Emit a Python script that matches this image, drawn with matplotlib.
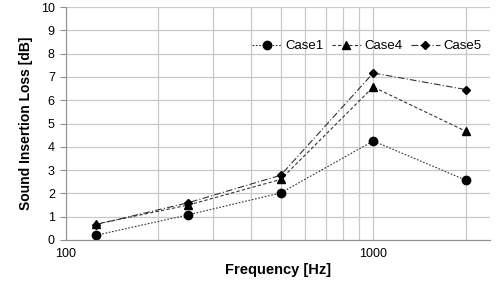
import matplotlib
matplotlib.use("Agg")
import matplotlib.pyplot as plt
from matplotlib.ticker import FixedLocator, NullFormatter

plt.rcParams['font.family'] = ['Liberation Sans', 'DejaVu Sans']

freq = [125, 250, 500, 1000, 2000]
case1 = [0.2, 1.08, 2.02, 4.25, 2.57]
case4 = [0.68, 1.5, 2.6, 6.57, 4.67]
case5 = [0.66, 1.6, 2.78, 7.17, 6.46]
yticks = list(range(0, 11))
xtick_labels = ["100", "1000"]

fig = plt.figure(figsize=(4.96, 2.83), dpi=100)
ax = fig.add_axes([0.133, 0.152, 0.855, 0.823])
ax.set_xscale('log')
ax.set_xlim(100, 2400)
ax.set_ylim(0, 10)

minor = [200, 300, 400, 500, 600, 700, 800, 900, 2000]
ax.xaxis.set_major_locator(FixedLocator([100, 1000]))
ax.set_xticklabels(xtick_labels)
ax.xaxis.set_minor_locator(FixedLocator(minor))
ax.xaxis.set_minor_formatter(NullFormatter())
ax.set_yticks(yticks)
ax.grid(True, which='both', color='#c8c8c8', linewidth=0.9)
ax.set_axisbelow(True)
for s in ['top', 'right']:
    ax.spines[s].set_visible(False)
for s in ['left', 'bottom']:
    ax.spines[s].set_color('#909090')
ax.tick_params(axis='both', which='major', labelsize=9, color='#909090', length=4, pad=4)
ax.tick_params(axis='x', which='minor', length=0)
ax.tick_params(axis='x', which='major', length=0, pad=6)

ax.plot(freq, case1, color='#333333', linestyle=(0, (1.5, 1.5)), linewidth=0.8,
        marker='o', markersize=6, markerfacecolor='black', markeredgecolor='black', label='Case1')
ax.plot(freq, case4, color='#333333', linestyle=(0, (3, 2)), linewidth=0.8,
        marker='^', markersize=6, markerfacecolor='black', markeredgecolor='black', label='Case4')
ax.plot(freq, case5, color='#333333', linestyle=(0, (6, 2, 1, 2)), linewidth=0.8,
        marker='D', markersize=4.5, markerfacecolor='black', markeredgecolor='black', label='Case5')

ax.legend(loc='upper center', bbox_to_anchor=(0.71, 0.91), ncol=3, frameon=False,
          fontsize=9.5, handlelength=2.2, handletextpad=0.3, columnspacing=0.6)

ax.set_xlabel('Frequency [Hz]', fontsize=10.5, fontweight='bold', labelpad=2)
ax.set_ylabel('Sound Insertion Loss [dB]', fontsize=10, fontweight='bold', labelpad=6)

fig.savefig('out.png', dpi=100)
